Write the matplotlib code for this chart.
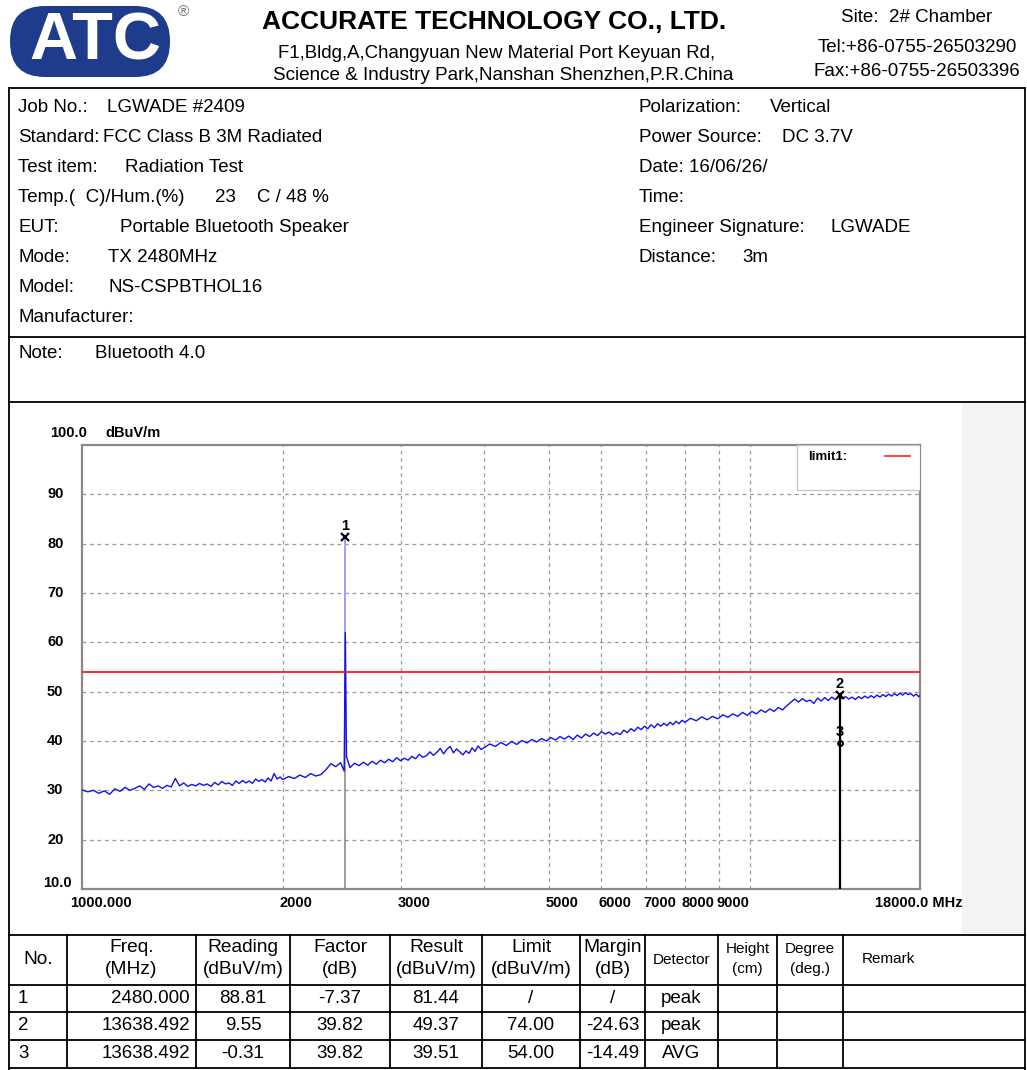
import numpy as np
import matplotlib.pyplot as plt
from matplotlib.patches import FancyBboxPatch, Rectangle

W, H = 1027, 1070

# ---- report header / info ----
company = "ACCURATE TECHNOLOGY CO., LTD."
address = ["F1,Bldg,A,Changyuan New Material Port Keyuan Rd,",
           "Science & Industry Park,Nanshan Shenzhen,P.R.China"]
contact = ["Site:  2# Chamber", "Tel:+86-0755-26503290", "Fax:+86-0755-26503396"]

info_left_labels = ["Job No.:", "Standard:", "Test item:", "Temp.(  C)/Hum.(%)",
                    "EUT:", "Mode:", "Model:", "Manufacturer:"]
info_left_values = ["LGWADE #2409", "FCC Class B 3M Radiated", "Radiation Test",
                    "23    C / 48 %", "Portable Bluetooth Speaker", "TX 2480MHz",
                    "NS-CSPBTHOL16", ""]
info_right_labels = ["Polarization:", "Power Source:", "Date: 16/06/26/", "Time:",
                     "Engineer Signature:", "Distance:"]
info_right_values = ["Vertical", "DC 3.7V", "", "", "LGWADE", "3m"]
note_text = "Bluetooth 4.0"

# ---- spectrum trace ----
freq_mhz = [
    1000, 1020, 1040, 1060, 1080, 1100, 1120, 1140, 1160, 1180,
    1200, 1220, 1240, 1260, 1280, 1300, 1320, 1340, 1360, 1380,
    1400, 1420, 1440, 1460, 1480, 1500, 1520, 1540, 1560, 1580,
    1600, 1620, 1640, 1660, 1680, 1700, 1720, 1740, 1760, 1780,
    1800, 1820, 1840, 1860, 1880, 1900, 1920, 1940, 1960, 1980,
    2000, 2040, 2080, 2120, 2160, 2200, 2240, 2280, 2320, 2360,
    2400, 2440, 2470, 2480, 2490, 2520, 2560, 2600, 2640, 2680,
    2720, 2760, 2800, 2840, 2880, 2920, 2960, 3000, 3040, 3080,
    3120, 3160, 3200, 3240, 3280, 3320, 3360, 3400, 3440, 3480,
    3520, 3560, 3600, 3640, 3680, 3720, 3760, 3800, 3840, 3880,
    3920, 3960,
    4000, 4080, 4160, 4240, 4320, 4400, 4480, 4560, 4640, 4720,
    4800, 4880, 4960, 5040, 5120, 5200, 5280, 5360, 5440, 5520,
    5600, 5680, 5760, 5840, 5920, 6000, 6080, 6160, 6240, 6320,
    6400, 6480, 6560, 6640, 6720, 6800, 6880, 6960, 7040, 7120,
    7200, 7280, 7360, 7440, 7520, 7600, 7680, 7760, 7840, 7920,
    8000, 8160, 8320, 8480, 8640, 8800, 8960, 9120, 9280, 9440,
    9600, 9760, 9920, 10080, 10240, 10400, 10560, 10720, 10880, 11040,
    11200, 11360, 11520, 11680, 11840, 12000, 12160, 12320, 12480, 12640,
    12800, 12960, 13120, 13280, 13440, 13600, 13760, 13920, 14080, 14240,
    14400, 14560, 14720, 14880, 15040, 15200, 15360, 15520, 15680, 15840,
    16000, 16160, 16320, 16480, 16640, 16800, 16960, 17120, 17280, 17440,
    17600, 17760, 17920, 18000]
level_dbuv = [
    30.1, 29.7, 30.0, 29.4, 29.9, 29.2, 30.3, 29.8, 30.6, 30.0,
    30.4, 30.9, 30.2, 31.3, 30.6, 30.9, 30.4, 31.0, 30.7, 32.4,
    30.9, 31.5, 30.8, 31.2, 30.9, 31.4, 31.0, 31.3, 30.8, 31.6,
    31.1, 31.8, 31.3, 31.5, 31.0, 31.9, 31.4, 32.0, 31.5, 31.9,
    31.4, 32.3, 31.8, 32.2, 31.7, 32.5, 31.9, 33.4, 32.3, 32.7,
    32.2, 32.8, 32.4, 33.1, 32.6, 33.4, 32.9, 33.2, 34.2, 35.4,
    34.8, 35.6, 33.9, 62.0, 36.8, 34.6, 35.5, 35.0, 35.7, 35.1,
    35.9, 35.3, 36.1, 35.6, 36.3, 35.8, 36.6, 36.0, 36.5, 36.1,
    36.9, 36.4, 37.3, 36.7, 37.0, 37.8, 37.1, 37.7, 38.5, 37.4,
    38.3, 38.9, 37.6, 38.4, 37.8, 37.2, 38.0, 37.5, 38.6, 37.9,
    39.0, 38.3,
    38.6, 39.4, 38.9, 39.7, 39.1, 39.9, 39.3, 40.1, 39.6, 40.3,
    39.8, 40.5, 40.0, 40.7, 40.2, 40.9, 40.4, 41.0, 40.3, 41.2,
    40.6, 41.4, 40.9, 41.6, 41.1, 41.9, 41.4, 41.8, 41.2, 41.7,
    41.3, 42.2, 41.7, 42.5, 42.0, 42.8, 42.3, 43.0, 42.5, 43.3,
    42.7, 43.5, 43.0, 43.6, 43.1, 43.8, 43.3, 44.0, 43.5, 44.2,
    43.8, 44.6, 44.1, 44.9, 44.3, 45.0, 44.5, 45.3, 44.8, 45.5,
    45.0, 45.8, 45.2, 46.0, 45.5, 46.3, 45.8, 46.5, 46.0, 46.8,
    46.3, 47.1, 47.8, 48.5, 47.9, 48.6, 48.0, 48.3, 47.6, 48.7,
    48.1, 48.8, 48.2, 48.9, 48.4, 49.2, 48.6, 49.0, 48.5, 48.9,
    48.4, 49.0, 48.6, 49.1, 48.7, 49.2, 48.8, 49.3, 48.9, 49.4,
    49.0, 49.5, 49.1, 49.6, 49.2, 49.7, 49.3, 49.8, 49.4, 49.6,
    49.1, 49.5, 49.0, 49.2]
limit1 = 54.0

y_tick_vals = [10, 20, 30, 40, 50, 60, 70, 80, 90, 100]
y_tick_labels = ["10.0", "20", "30", "40", "50", "60", "70", "80", "90", "100.0"]
x_grid_vals = [2000, 3000, 4000, 5000, 6000, 7000, 8000, 9000, 10000]
x_tick_vals = [1000, 2000, 3000, 5000, 6000, 7000, 8000, 9000, 18000]
x_tick_labels = ["1000.000", "2000", "3000", "5000", "6000", "7000", "8000", "9000",
                 "18000.0 MHz"]

# ---- result table ----
tbl_headers = [["No."], ["Freq.", "(MHz)"], ["Reading", "(dBuV/m)"], ["Factor", "(dB)"],
               ["Result", "(dBuV/m)"], ["Limit", "(dBuV/m)"], ["Margin", "(dB)"],
               ["Detector"], ["Height", "(cm)"], ["Degree", "(deg.)"], ["Remark"]]
tbl_no = ["1", "2", "3"]
tbl_freq = ["2480.000", "13638.492", "13638.492"]
tbl_reading = ["88.81", "9.55", "-0.31"]
tbl_factor = ["-7.37", "39.82", "39.82"]
tbl_result = ["81.44", "49.37", "39.51"]
tbl_limit = ["/", "74.00", "54.00"]
tbl_margin = ["/", "-24.63", "-14.49"]
tbl_detector = ["peak", "peak", "AVG"]

SANS = ['Liberation Sans', 'DejaVu Sans']
FS = 13.5

fig = plt.figure(figsize=(W / 100, H / 100), dpi=100)
page = fig.add_axes([0, 0, 1, 1])
page.set_xlim(0, W)
page.set_ylim(H, 0)
page.axis('off')

# logo
page.add_patch(FancyBboxPatch((10, 6), 160, 71, boxstyle="round,pad=0,rounding_size=35",
                              fc='#1f3c8c', ec='none'))
page.text(95, 43, "ATC", color='white', fontsize=48, fontweight='bold', family=SANS,
          ha='center', va='center')
page.text(183, 12, "\u00ae", color='#777777', fontsize=11, family=SANS, ha='center', va='center')

page.text(494, 22, company, fontsize=19, fontweight='bold', family=SANS, ha='center', va='center')
page.text(497, 53, address[0], fontsize=13.4, family=SANS, ha='center', va='center')
page.text(503, 75, address[1], fontsize=13.6, family=SANS, ha='center', va='center')
for i, s in enumerate(contact):
    page.text(917, [17, 47, 72][i], s, fontsize=13.5, family=SANS, ha='center', va='center')

# frame lines
lk = dict(color='black', lw=1.3)
page.plot([9, 1025], [88, 88], **lk)
page.plot([9, 9], [88, H], **lk)
page.plot([1025, 1025], [88, H], **lk)
for yy in [337, 402, 935]:
    page.plot([9, 1025], [yy, yy], **lk)
page.add_patch(Rectangle((962, 403), 62, 531, fc='#f3f3f3', ec='none'))

# info block
left_val_x = [107, 103, 125, 215, 120, 108, 108, 108]
for i, (lab, val) in enumerate(zip(info_left_labels, info_left_values)):
    y = 107 + 30 * i
    page.text(18, y, lab, fontsize=FS, family=SANS, va='center')
    page.text(left_val_x[i], y, val, fontsize=FS, family=SANS, va='center')
right_val_x = [770, 782, 0, 0, 830, 742]
for i, (lab, val) in enumerate(zip(info_right_labels, info_right_values)):
    y = 107 + 30 * i
    page.text(639, y, lab, fontsize=FS, family=SANS, va='center')
    if val:
        page.text(right_val_x[i], y, val, fontsize=FS, family=SANS, va='center')
page.text(18, 353, "Note:", fontsize=FS, family=SANS, va='center')
page.text(95, 353, note_text, fontsize=FS, family=SANS, va='center')

# ---- chart ----
x0, x1, ytop, ybot = 82, 920, 445, 889
ax = fig.add_axes([x0 / W, 1 - ybot / H, (x1 - x0) / W, (ybot - ytop) / H])
ax.set_xscale('log')
ax.set_xlim(1000, 18000)
ax.set_ylim(10, 100)
ax.set_xticks([])
ax.set_yticks([])
ax.minorticks_off()
for sp in ax.spines.values():
    sp.set_color('#8a8a8a')
    sp.set_linewidth(1.6)

gk = dict(color='#9a9a9a', lw=0.9, ls=(0, (3, 3)), zorder=1)
for v in y_tick_vals[1:-1]:
    ax.axhline(v, **gk)
for v in x_grid_vals:
    ax.axvline(v, **gk)

lab_kw = dict(textcoords='offset pixels', va='center', fontsize=10.5, fontweight='bold',
              family=SANS, annotation_clip=False)
for v, s in zip(y_tick_vals, y_tick_labels):
    dy = 6 if v == 10 else (12 if v == 100 else 0)
    dx = -39 if v == 10 else (-32 if v == 100 else -35)
    ax.annotate(s, xy=(0, v), xycoords=('axes fraction', 'data'), xytext=(dx, dy),
                ha='left', **lab_kw)
ax.annotate("dBuV/m", xy=(0, 100), xycoords=('axes fraction', 'data'), xytext=(23, 12),
            ha='left', **lab_kw)
for v, s in zip(x_tick_vals, x_tick_labels):
    dx = -12 if v == x_tick_vals[0] else (-45 if v == x_tick_vals[-1] else -3)
    ax.annotate(s, xy=(v, 0), xycoords=('data', 'axes fraction'), xytext=(dx, -14),
                ha='left', **lab_kw)

# markers from table
mk_f = [float(f) for f in tbl_freq]
mk_r = [float(r) for r in tbl_result]
ax.vlines(mk_f[0], 10, mk_r[0], color='#8c8c8c', lw=1.2, zorder=2)
ax.vlines(mk_f[0], max(level_dbuv), mk_r[0], color='#a4a4ee', lw=1.4, zorder=3)
ax.vlines(mk_f[1], 10, mk_r[1], color='black', lw=1.6, zorder=5)

ax.plot(freq_mhz, level_dbuv, color='#1010f0', lw=1.0, zorder=4)
ax.axhline(limit1, color='#ff1a1a', lw=1.3, zorder=6)

for i in range(3):
    if i < 2:
        ax.plot(mk_f[i], mk_r[i], marker='x', color='black', ms=6, mew=1.6, zorder=7)
    else:
        ax.plot(mk_f[i], mk_r[i], marker='o', color='black', ms=3.5, mfc='none', mew=1.4, zorder=7)
    ax.annotate(tbl_no[i], xy=(mk_f[i], mk_r[i]), xytext=(0, 11), textcoords='offset pixels',
                ha='center', va='center', fontsize=10.5, fontweight='bold', family=SANS, zorder=8)

# legend box
ax.add_patch(Rectangle((0.853, 0.899), 0.147, 0.101, transform=ax.transAxes,
                       fc='white', ec='#c8c8c8', lw=1.0, zorder=9))
ax.text(0.866, 0.973, "limit1:", transform=ax.transAxes, fontsize=9.5, fontweight='bold',
        family=SANS, va='center', zorder=10)
ax.plot([0.958, 0.988], [0.975, 0.975], transform=ax.transAxes, color='#ff3030', lw=1.3, zorder=10)

# ---- table ----
col_x = [9, 67, 196, 290, 390, 482, 580, 645, 718, 777, 843, 1025]
row_y = [935, 985, 1012, 1040, 1068]
for yy in row_y[1:]:
    page.plot([9, 1025], [yy, yy], **lk)
for xx in col_x[1:-1]:
    page.plot([xx, xx], [935, 1068], **lk)

for j, hdr in enumerate(tbl_headers):
    cx = (col_x[j] + col_x[j + 1]) / 2
    small = j >= 7
    fs = 11 if small else 13.8
    if j == 10:
        page.text(862, 959, hdr[0], fontsize=fs, family=SANS, va='center')
    elif len(hdr) == 1:
        page.text(cx, 960, hdr[0], fontsize=fs, family=SANS, ha='center', va='center')
    else:
        dy = 10 if small else 11
        page.text(cx, 959 - dy, hdr[0], fontsize=fs, family=SANS, ha='center', va='center')
        page.text(cx, 959 + dy, hdr[1], fontsize=fs, family=SANS, ha='center', va='center')

cols = [tbl_reading, tbl_factor, tbl_result, tbl_limit, tbl_margin, tbl_detector]
for i in range(3):
    cy = (row_y[i + 1] + row_y[i + 2]) / 2
    page.text(18, cy, tbl_no[i], fontsize=FS, family=SANS, va='center')
    page.text(190, cy, tbl_freq[i], fontsize=FS, family=SANS, ha='right', va='center')
    for k, col in enumerate(cols):
        cx = (col_x[k + 2] + col_x[k + 3]) / 2
        page.text(cx, cy, col[i], fontsize=FS, family=SANS, ha='center', va='center')

fig.savefig("out.png", dpi=100)
